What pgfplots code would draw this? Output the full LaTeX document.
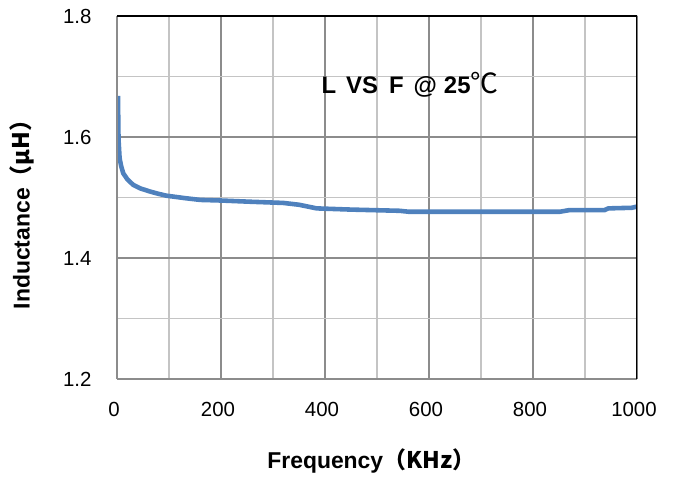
\documentclass[border=0pt]{standalone}
\usepackage{fontspec}
\setmainfont{Liberation Sans}
\newfontfamily\cjk{Noto Sans CJK SC}
\usepackage{pgfplots}
\pgfplotsset{compat=1.18}
\definecolor{curve}{HTML}{4F81BD}
\definecolor{gmaj}{HTML}{8C8C8C}
\definecolor{gmin}{HTML}{C4C4C4}

\begin{document}
\begin{tikzpicture}
\begin{axis}[name=ax, scale only axis, width=520bp, height=363bp,
  xmin=0, xmax=1000, ymin=1.2, ymax=1.8,
  xtick={0,200,...,1000}, ytick={1.2,1.4,1.6,1.8},
  minor x tick num=1, minor y tick num=1,
  major tick length=0pt, minor tick length=0pt,
  grid=both,
  major grid style={gmaj, line width=1.1pt},
  minor grid style={gmin, line width=1.1pt},
  axis line style={draw=none},
  /pgf/number format/assume math mode=true,
  /pgf/number format/set thousands separator={},
  /pgf/number format/fixed, /pgf/number format/precision=1,
  yticklabel style={font=\fontsize{20.5}{24}\selectfont, xshift=-22bp,
    /pgf/number format/fixed zerofill},
  xticklabel style={font=\fontsize{20.5}{24}\selectfont, yshift=-20bp, xshift=-3bp},
  xlabel={Frequency\cjk{（}KHz\cjk{）}},
  ylabel={Inductance\cjk{（}μH\cjk{）}},
  xlabel style={font=\bfseries\fontsize{23}{27}\selectfont,
    at={(axis description cs:0.489,-0.2265)}, anchor=center},
  ylabel style={font=\bfseries\fontsize{23}{27}\selectfont,
    at={(axis description cs:-0.1827,0.468)}, anchor=center},
]
\addplot[curve, line width=4.6pt, line join=round] coordinates {
(2,1.668) (2.5,1.62) (3,1.595) (5,1.565) (8,1.552) (12,1.540) (20,1.530)
(31,1.521) (45,1.515) (63,1.510) (80,1.506) (95,1.503) (130,1.499)
(160,1.496) (200,1.495) (256,1.493) (320,1.491) (350,1.488) (384,1.482)
(450,1.480) (544,1.478) (560,1.4765) (700,1.4765) (852,1.4765)
(869,1.479) (937,1.479) (945,1.482) (990,1.483) (1000,1.485)
};
\draw[gmaj, line width=1.3pt] (rel axis cs:0,1) -- (rel axis cs:0,0) -- (rel axis cs:1,0);
\draw[black, line width=1.3pt] (rel axis cs:0,1) -- (rel axis cs:1,1) -- (rel axis cs:1,0);
\node[font=\bfseries\fontsize{24}{28}\selectfont, anchor=center]
  at (rel axis cs:0.5635,0.81) {L\hspace{10bp}VS\hspace{11bp}F\hspace{10bp}@\hspace{7bp}25{\cjk\mdseries\fontsize{28}{30}\selectfont ℃}};
\end{axis}
\pgfresetboundingbox
\path (ax.south west) ++(-117bp,-101bp) coordinate (bl);
\path (ax.north east) ++(43bp,16bp) coordinate (tr);
\path[use as bounding box] (bl) rectangle (tr);
\end{tikzpicture}
\end{document}
